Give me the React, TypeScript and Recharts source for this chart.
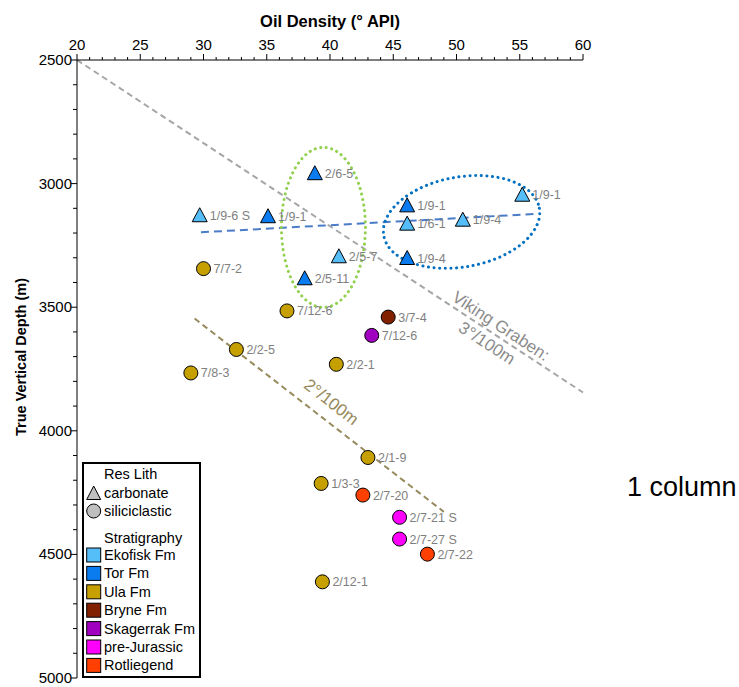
import { ScatterChart, Scatter, XAxis, YAxis, ReferenceLine, ReferenceDot } from 'recharts'

// wells
const wells = [
  '1/9-6 S', '1/9-1', '2/6-5', '2/5-7', '2/5-11', '1/9-1', '1/6-1', '1/9-4', '1/9-1', '1/9-4',
  '7/7-2', '7/12-6', '3/7-4', '7/12-6', '2/2-5', '7/8-3', '2/2-1', '2/1-9', '1/3-3', '2/7-20',
  '2/7-21 S', '2/7-27 S', '2/7-22', '2/12-1',
]
const apiValues = [
  29.7, 35.1, 38.8, 40.7, 38.0, 46.1, 46.1, 50.5, 55.2, 46.1,
  30.0, 36.6, 44.6, 43.3, 32.6, 29.0, 40.5, 43.0, 39.3, 42.6,
  45.5, 45.5, 47.7, 39.4,
]
const tvdValues = [
  3128, 3132, 2958, 3294, 3383, 3088, 3162, 3146, 3045, 3301,
  3344, 3515, 3540, 3614, 3671, 3766, 3731, 4108, 4213, 4260,
  4350, 4438, 4499, 4611,
]
const lithValues = [
  'carbonate', 'carbonate', 'carbonate', 'carbonate', 'carbonate',
  'carbonate', 'carbonate', 'carbonate', 'carbonate', 'carbonate',
  'siliciclastic', 'siliciclastic', 'siliciclastic', 'siliciclastic', 'siliciclastic',
  'siliciclastic', 'siliciclastic', 'siliciclastic', 'siliciclastic', 'siliciclastic',
  'siliciclastic', 'siliciclastic', 'siliciclastic', 'siliciclastic',
]
const stratValues = [
  'Ekofisk Fm', 'Tor Fm', 'Tor Fm', 'Ekofisk Fm', 'Tor Fm', 'Tor Fm', 'Ekofisk Fm', 'Ekofisk Fm', 'Ekofisk Fm', 'Tor Fm',
  'Ula Fm', 'Ula Fm', 'Bryne Fm', 'Skagerrak Fm', 'Ula Fm', 'Ula Fm', 'Ula Fm', 'Ula Fm', 'Ula Fm', 'Rotliegend',
  'pre-Jurassic', 'pre-Jurassic', 'Rotliegend', 'Ula Fm',
]

const stratNames = ['Ekofisk Fm', 'Tor Fm', 'Ula Fm', 'Bryne Fm', 'Skagerrak Fm', 'pre-Jurassic', 'Rotliegend']
const stratColors = ['#55bdf8', '#0a7cf0', '#c6a000', '#802000', '#a000c0', '#ff00ff', '#ff4000']
const lithNames = ['carbonate', 'siliciclastic']

const xMajorTicks = [20, 25, 30, 35, 40, 45, 50, 55, 60]
const yMajorTicks = [2500, 3000, 3500, 4000, 4500, 5000]
const xTicks: number[] = []
for (let v = 20; v <= 60; v += 1) xTicks.push(v)
const yTicks: number[] = []
for (let v = 2500; v <= 5000; v += 100) yTicks.push(v)

// trend lines [api, tvd]
const vikingLine = [{ x: 20, y: 2500 }, { x: 60, y: 3845 }]
const carbonateLine = [{ x: 29.8, y: 3197 }, { x: 56.4, y: 3122 }]
const ulaLine = [{ x: 29.3, y: 3546 }, { x: 49.0, y: 4328 }]

const data = wells.map((name, i) => ({
  name,
  api: apiValues[i],
  tvd: tvdValues[i],
  lith: lithValues[i],
  strat: stratValues[i],
}))

const colorOf = (s: string) => stratColors[stratNames.indexOf(s)]

const FONT = 'Liberation Sans, Arial, sans-serif'

function XTick({ x, y, payload }: any) {
  const major = xMajorTicks.includes(payload.value)
  return (
    <g>
      <line x1={x} x2={x} y1={y} y2={y - (major ? 6 : 3)} stroke="#000" />
      {major && (
        <text x={x} y={y - 10} textAnchor="middle" fontSize={15} fill="#000">
          {payload.value}
        </text>
      )}
    </g>
  )
}

function YTick({ x, y, payload }: any) {
  const major = yMajorTicks.includes(payload.value)
  return (
    <g>
      <line x1={x} x2={x - (major ? 6 : 4)} y1={y} y2={y} stroke="#000" />
      {major && (
        <text x={x - 5} y={y} dy={5} textAnchor="end" fontSize={15} fill="#000">
          {payload.value}
        </text>
      )}
    </g>
  )
}

function YTitle({ viewBox }: any) {
  const cx = viewBox.x - 16
  const cy = viewBox.y + viewBox.height / 2 - 12
  return (
    <text
      x={cx}
      y={cy}
      transform={`rotate(-90 ${cx} ${cy})`}
      textAnchor="middle"
      dominantBaseline="central"
      fontSize={14.5}
      fontWeight="bold"
      fill="#000"
    >
      True Vertical Depth (m)
    </text>
  )
}

function WellMarker(props: any) {
  const { cx, cy, payload } = props
  const fill = colorOf(payload.strat)
  return (
    <g>
      {payload.lith === 'carbonate' ? (
        <polygon
          points={`${cx},${cy - 7.5} ${cx - 7.5},${cy + 6.5} ${cx + 7.5},${cy + 6.5}`}
          fill={fill}
          stroke="#000"
          strokeWidth={1}
        />
      ) : (
        <circle cx={cx} cy={cy} r={7} fill={fill} stroke="#000" strokeWidth={1} />
      )}
      <text x={cx + 10} y={cy} dy={4.5} fontSize={12.5} fill="#7f7f7f">
        {payload.name}
      </text>
    </g>
  )
}

const ellipseShape = (rx: number, ry: number, angle: number, color: string) => (p: any) => (
  <ellipse
    cx={p.cx}
    cy={p.cy}
    rx={rx}
    ry={ry}
    transform={`rotate(${angle} ${p.cx} ${p.cy})`}
    fill="none"
    stroke={color}
    strokeWidth={3}
    strokeDasharray="0.1 5.5"
    strokeLinecap="round"
  />
)

const noteShape = (text: string, angle: number, color: string) => (p: any) => (
  <text
    x={p.cx}
    y={p.cy}
    transform={`rotate(${angle} ${p.cx} ${p.cy})`}
    textAnchor="middle"
    dominantBaseline="central"
    fontSize={17}
    fill={color}
  >
    {text}
  </text>
)

function LegendBox() {
  return (
    <svg width={119} height={216} style={{ position: 'absolute', left: 82, top: 462, fontFamily: FONT }}>
      <rect x={1} y={1} width={117} height={214} fill="#fff" stroke="#000" strokeWidth={2} />
      <text x={22} y={12} dy={5} fontSize={14.5}>Res Lith</text>
      {lithNames.map((n, i) => {
        const cy = 31 + i * 18
        return (
          <g key={n}>
            {n === 'carbonate' ? (
              <polygon points={`11.7,${cy - 7} 4.7,${cy + 6.5} 18.7,${cy + 6.5}`} fill="#bfbfbf" stroke="#000" />
            ) : (
              <circle cx={11.7} cy={cy} r={7} fill="#bfbfbf" stroke="#000" />
            )}
            <text x={22} y={cy} dy={5} fontSize={14.5}>{n}</text>
          </g>
        )
      })}
      <text x={22} y={76} dy={5} fontSize={14.5}>Stratigraphy</text>
      {stratNames.map((n, i) => {
        const cy = 93 + i * 18.4
        return (
          <g key={n}>
            <rect x={4.7} y={cy - 7} width={14} height={14} fill={stratColors[i]} stroke="#000" />
            <text x={22} y={cy} dy={5} fontSize={14.5}>{n}</text>
          </g>
        )
      })}
    </svg>
  )
}

export default function App() {
  return (
    <div style={{ position: 'absolute', left: 0, top: 0, width: 739, height: 687, fontFamily: FONT, background: '#fff' }}>
      <ScatterChart width={739} height={687} margin={{ top: 30, right: 156, bottom: 9, left: 37 }}>
        <XAxis
          type="number"
          dataKey="api"
          orientation="top"
          domain={[20, 60]}
          ticks={xTicks}
          interval={0}
          height={30}
          tickSize={0}
          tickMargin={0}
          tickLine={false}
          tick={<XTick />}
          axisLine={{ stroke: '#000' }}
          label={{ value: 'Oil Density (° API)', position: 'top', offset: 3, fontSize: 16.5, fontWeight: 'bold', fill: '#000' }}
        />
        <YAxis
          type="number"
          dataKey="tvd"
          domain={[2500, 5000]}
          reversed
          ticks={yTicks}
          interval={0}
          width={40}
          tickSize={0}
          tickMargin={0}
          tickLine={false}
          tick={<YTick />}
          axisLine={{ stroke: '#000' }}
          label={<YTitle />}
        />
        <ReferenceLine segment={vikingLine} stroke="#a6a6a6" strokeWidth={2} strokeDasharray="6 4" />
        <ReferenceLine segment={carbonateLine} stroke="#4a7cc8" strokeWidth={2} strokeDasharray="8 5" />
        <ReferenceLine segment={ulaLine} stroke="#978a5c" strokeWidth={2} strokeDasharray="6 4" />
        <ReferenceDot x={39.48} y={3177} shape={ellipseShape(42, 80, 0, '#92d050')} />
        <ReferenceDot x={50.4} y={3155} shape={ellipseShape(79, 45, -10, '#0070c0')} />
        <ReferenceDot x={53.5} y={3577} shape={noteShape('Viking Graben:', 33.3, '#8c8c8c')} />
        <ReferenceDot x={52.4} y={3646} shape={noteShape('3°/100m', 33.3, '#8c8c8c')} />
        <ReferenceDot x={40.1} y={3884} shape={noteShape('2°/100m', 37.8, '#978a5c')} />
        <Scatter data={data} shape={<WellMarker />} isAnimationActive={false} />
      </ScatterChart>
      <LegendBox />
      <div style={{ position: 'absolute', left: 627, top: 474, fontSize: 27, lineHeight: '27px', color: '#000', whiteSpace: 'nowrap' }}>
        1 column
      </div>
    </div>
  )
}
